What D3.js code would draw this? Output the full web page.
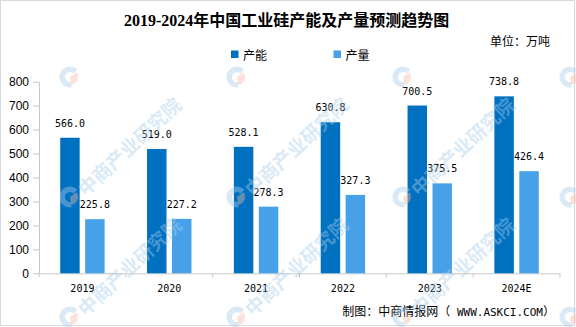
<!DOCTYPE html>
<html>
<head>
<meta charset="utf-8">
<script src="https://cdn.jsdelivr.net/npm/d3@7"></script>
<style>
  html, body { margin: 0; padding: 0; background: #fff; }
  svg { display: block; }
</style>
</head>
<body>
<svg id="chart" width="576" height="327"></svg>
<script>
// ---- data ----
const years = ["2019", "2020", "2021", "2022", "2023", "2024E"];
const seriesNames = ["产能", "产量"];
const capacity = [566.0, 519.0, 528.1, 630.8, 700.5, 738.8];
const output = [225.8, 227.2, 278.3, 327.3, 375.5, 426.4];
const yTicks = [0, 100, 200, 300, 400, 500, 600, 700, 800];
const colors = ["#0070C0", "#47A1E8"];

const seriesValues = [capacity, output];

const svg = d3.select("#chart");

// border
svg.append("rect")
  .attr("x", 0.5).attr("y", 0.5).attr("width", 574).attr("height", 325)
  .attr("fill", "#fff").attr("stroke", "#d9d9d9");

// scales
const x0 = d3.scaleBand().domain(years).range([39, 560]).padding(0);
const x1 = d3.scaleBand().domain(seriesNames).range([0, x0.bandwidth()])
  .paddingInner(0.22).paddingOuter(0.85);
const y = d3.scaleLinear().domain([0, 800]).range([273.3, 81.7]);

// title
svg.append("text")
  .attr("x", 124).attr("y", 26)
  .attr("font-family", "'Liberation Serif', 'Noto Sans CJK SC', serif")
  .attr("font-weight", "bold")
  .attr("font-size", 16)
  .attr("fill", "#000")
  .text("2019-2024年中国工业硅产能及产量预测趋势图");

// unit
svg.append("text")
  .attr("x", 550).attr("y", 46)
  .attr("text-anchor", "end")
  .attr("font-family", "'Noto Sans CJK SC', sans-serif")
  .attr("font-size", 12)
  .attr("fill", "#000")
  .text("单位：万吨");

// legend
const legendX = [231, 333.5];
seriesNames.forEach((name, i) => {
  const g = svg.append("g").attr("transform", `translate(${legendX[i]},50)`);
  g.append("rect").attr("x", 0).attr("y", 0.5).attr("width", 7.5).attr("height", 7.5).attr("fill", colors[i]);
  g.append("text")
    .attr("x", 12).attr("y", 4.5)
    .attr("dominant-baseline", "central")
    .attr("font-family", "'Noto Sans CJK SC', sans-serif")
    .attr("font-size", 12)
    .attr("fill", "#000")
    .text(name);
});

// y axis
const yAxis = d3.axisLeft(y).tickValues(yTicks).tickSize(6).tickSizeOuter(0).tickPadding(4)
  .tickFormat(d3.format("d"));
const yg = svg.append("g").attr("transform", "translate(39,0)").call(yAxis);
yg.select(".domain").attr("stroke", "#c8c8c8");
yg.selectAll(".tick line").attr("stroke", "#c8c8c8");
yg.selectAll(".tick text")
  .attr("font-family", "'Liberation Sans', Arial, sans-serif")
  .attr("font-size", 12)
  .attr("fill", "#000");

// x axis
const xAxis = d3.axisBottom(x0).tickSize(0).tickPadding(11.6);
const xg = svg.append("g").attr("transform", "translate(0,273.3)").call(xAxis);
xg.select(".domain").attr("stroke", "#c8c8c8");
xg.selectAll(".tick text")
  .attr("font-family", "'DejaVu Sans Mono', monospace")
  .attr("font-size", 10)
  .attr("fill", "#000");
const boundaries = years.map(d => x0(d)).concat([x0.range()[1]]);
xg.selectAll(".bnd").data(boundaries).enter().append("line")
  .attr("class", "bnd")
  .attr("x1", d => d).attr("x2", d => d)
  .attr("y1", 0).attr("y2", 4)
  .attr("stroke", "#c8c8c8");

// bars
const groups = svg.append("g").selectAll("g").data(years).enter().append("g")
  .attr("transform", d => `translate(${x0(d)},0)`);

groups.each(function(year, yi) {
  const g = d3.select(this);
  seriesNames.forEach((s, si) => {
    const v = seriesValues[si][yi];
    g.append("rect")
      .attr("x", x1(s))
      .attr("y", y(v))
      .attr("width", x1.bandwidth())
      .attr("height", y(0) - y(v))
      .attr("fill", colors[si]);
    g.append("text")
      .attr("x", x1(s) + x1.bandwidth() / 2)
      .attr("y", y(v) - 11)
      .attr("text-anchor", "middle")
      .attr("font-family", "'DejaVu Sans Mono', monospace")
      .attr("font-size", 10)
      .attr("fill", "#000")
      .text(v.toFixed(1));
  });
});

// footer
const foot = svg.append("text")
  .attr("x", 555).attr("y", 316)
  .attr("text-anchor", "end")
  .attr("fill", "#000");
foot.append("tspan")
  .attr("font-family", "'Noto Sans CJK SC', sans-serif").attr("font-size", 12)
  .text("制图：中商情报网（");
foot.append("tspan")
  .attr("font-family", "'DejaVu Sans Mono', monospace").attr("font-size", 11)
  .text(" WWW.ASKCI.COM");
foot.append("tspan")
  .attr("font-family", "'Noto Sans CJK SC', sans-serif").attr("font-size", 12)
  .text("）");

// watermarks (logos everywhere, text only where it fits fully)
const wm = svg.append("g").attr("pointer-events", "none");
const wmX = [70, 237, 403, 570];
const wmY = [77, 197, 317];
wmX.forEach(cx => wmY.forEach(cy => {
  const g = wm.append("g").attr("transform", `translate(${cx},${cy})`).attr("opacity", 0.42);
  const arc = d3.arc().innerRadius(5).outerRadius(10.5);
  g.append("path").attr("d", arc({startAngle: Math.PI * 0.95, endAngle: Math.PI * 2.25})).attr("fill", "#a8cdea");
  g.append("path").attr("d", d3.arc().innerRadius(0).outerRadius(8)({startAngle: Math.PI * 0.3, endAngle: Math.PI * 0.95})).attr("fill", "#f4b9a6");
  if (cy > 150 && cx < 450) {
    g.append("text")
      .attr("transform", "translate(10,-6) rotate(-43)")
      .attr("dominant-baseline", "central")
      .attr("font-family", "'Noto Sans CJK SC', sans-serif")
      .attr("font-weight", "bold")
      .attr("font-size", 19)
      .attr("fill", "#a8cdea")
      .text("中商产业研究院");
  }
}));
</script>
</body>
</html>
